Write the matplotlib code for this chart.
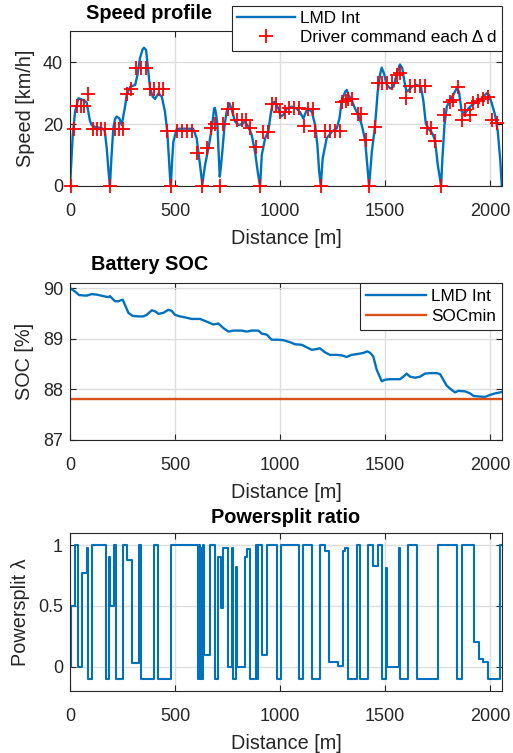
import matplotlib
matplotlib.use("Agg")
import matplotlib.pyplot as plt

plt.rcParams["font.family"] = ["Liberation Sans", "DejaVu Sans"]

# --- speed profile: driver commands (red +) ---
cmd_dist = [3, 19, 32, 51, 67, 87, 108, 127, 146, 165, 190, 214, 235, 254, 270, 289,
            314, 337, 360, 381, 402, 422, 444, 460, 479, 508, 532, 556, 579, 605, 630,
            650, 672, 688, 716, 730, 754, 778, 797, 817, 838, 857, 884, 905, 921, 944,
            960, 981, 1000, 1024, 1045, 1068, 1092, 1114, 1132, 1156, 1167, 1194, 1214,
            1238, 1262, 1286, 1297, 1313, 1325, 1344, 1370, 1386, 1408, 1424, 1452, 1465,
            1487, 1508, 1532, 1556, 1571, 1598, 1619, 1643, 1667, 1688, 1699, 1720, 1738,
            1767, 1783, 1810, 1822, 1849, 1865, 1881, 1905, 1921, 1944, 1968, 1992, 2008,
            2032]
cmd_speed = [0, 18.4, 25.9, 25.9, 25.9, 29.6, 18.4, 18.4, 18.4, 18.4, 0, 18.4, 18.4, 18.4,
             29.6, 31.3, 38.2, 38.2, 38.2, 31.3, 31.3, 31.3, 31.3, 17.7, 0, 17.7, 17.7,
             17.7, 17.7, 10.6, 0, 12.4, 18.8, 19.9, 0, 20.1, 25, 25, 21.3, 21.3, 21.3,
             18.6, 12.6, 0, 17.3, 17.3, 26.6, 26.6, 23.8, 23.8, 25.3, 25.3, 25.3, 19.5,
             25, 25, 17.7, 0, 17.7, 17.7, 17.7, 17.7, 27.2, 27.4, 28.1, 28.1, 23.1, 23.1,
             14.8, 0, 19.1, 33.1, 33.1, 33.1, 33.1, 35.8, 36.3, 28.3, 32.3, 32.3, 32.3,
             32.3, 18.6, 18.6, 14.5, 0, 22.9, 27.2, 27.7, 32, 21.3, 24.5, 22.9, 26.7,
             27.4, 28.1, 28.8, 21.3, 20.2]

# --- speed profile: LMD Int (blue line) ---
lmd_dist = [0, 13, 24, 40, 63, 79, 95, 103, 120, 150, 165, 175, 183, 190, 197, 206, 214,
            222, 235, 246, 262, 270, 286, 310, 321, 333, 345, 352, 362, 368, 381, 394,
            405, 421, 437, 452, 463, 470, 476, 480, 486, 492, 508, 530, 560, 587, 603,
            619, 630, 643, 659, 675, 686, 690, 696, 702, 708, 713, 718, 725, 736, 746,
            759, 770, 786, 802, 817, 833, 849, 865, 881, 895, 905, 913, 929, 944, 956,
            965, 975, 992, 1003, 1016, 1032, 1056, 1079, 1095, 1111, 1130, 1151, 1167,
            1178, 1186, 1194, 1203, 1222, 1246, 1270, 1283, 1294, 1310, 1318, 1325, 1341,
            1357, 1373, 1389, 1405, 1417, 1424, 1437, 1452, 1465, 1476, 1484, 1495, 1508,
            1524, 1540, 1556, 1571, 1582, 1591, 1602, 1614, 1627, 1651, 1671, 1683, 1694,
            1706, 1725, 1738, 1751, 1767, 1773, 1783, 1794, 1810, 1825, 1841, 1852, 1865,
            1881, 1897, 1913, 1937, 1960, 1984, 1995, 2008, 2024, 2037, 2048, 2056]
lmd_speed = [0, 16.5, 24, 28.3, 27.7, 27, 21, 19.7, 19, 18.7, 18, 12, 5, 0, 9, 18.6, 21.5,
             22.4, 21.8, 19.7, 25.6, 29.4, 32, 32.6, 35.8, 41.2, 44, 44.6, 43.9, 40.1,
             31.5, 28.8, 28.1, 29.9, 28.8, 24, 17.5, 10, 3, 0, 8, 14.3, 18.4, 18.5, 18.5,
             18.4, 15.4, 6.8, 0.5, 6.8, 12.2, 18.6, 25, 25.2, 23, 19.7, 10, 3, 6, 11,
             19.7, 24, 26.7, 24.5, 20.8, 19.7, 19.9, 20.8, 19.1, 16.5, 11, 4, 0, 10, 15.4,
             17.5, 23.4, 26.7, 27.2, 25, 22.4, 22.9, 25, 25.6, 25, 23.8, 21.8, 25, 24,
             19.7, 13, 5, 0, 8.9, 15.4, 17.5, 18.6, 21.8, 27.7, 30.4, 31, 29.4, 27.7, 25,
             22.9, 19.7, 14.8, 5.7, 0, 11, 19.1, 30.4, 35.8, 38.2, 36.3, 32.6, 31.5, 32,
             36.3, 39.2, 38, 34.2, 30.4, 31, 32, 32.6, 32, 27.2, 20.2, 18.6, 17, 14.8, 6.8,
             0, 8.9, 19.7, 25.6, 27.7, 29.4, 31.5, 30.4, 24, 23.4, 25, 26.1, 27.2, 28.3,
             29.9, 29.4, 26.7, 22.9, 17.5, 8.9, 0]

# --- battery SOC ---
soc_dist = [0, 24, 44, 79, 103, 127, 159, 183, 190, 214, 230, 251, 278, 298, 325, 349, 365,
            389, 405, 421, 444, 468, 484, 500, 524, 548, 579, 619, 643, 683, 706, 730,
            754, 778, 817, 841, 865, 897, 913, 937, 960, 992, 1016, 1048, 1071, 1103,
            1127, 1151, 1167, 1190, 1214, 1238, 1270, 1294, 1317, 1341, 1373, 1397, 1416,
            1429, 1444, 1460, 1484, 1500, 1524, 1571, 1587, 1603, 1619, 1643, 1667, 1690,
            1714, 1746, 1762, 1794, 1817, 1833, 1849, 1881, 1905, 1921, 1944, 1976, 2000,
            2024, 2048, 2057]
soc_val = [90.0, 89.93, 89.86, 89.85, 89.88, 89.87, 89.84, 89.82, 89.84, 89.74, 89.74,
           89.77, 89.51, 89.45, 89.44, 89.44, 89.47, 89.56, 89.54, 89.49, 89.51, 89.57,
           89.55, 89.47, 89.44, 89.42, 89.39, 89.39, 89.35, 89.28, 89.30, 89.21, 89.14,
           89.16, 89.16, 89.14, 89.16, 89.16, 89.10, 89.08, 88.98, 88.98, 88.97, 88.93,
           88.89, 88.88, 88.83, 88.78, 88.79, 88.81, 88.73, 88.68, 88.68, 88.67, 88.64,
           88.68, 88.70, 88.72, 88.75, 88.72, 88.65, 88.39, 88.16, 88.19, 88.20, 88.20,
           88.25, 88.31, 88.25, 88.23, 88.25, 88.31, 88.32, 88.32, 88.30, 88.07, 87.99,
           87.94, 87.97, 87.96, 87.92, 87.87, 87.86, 87.85, 87.89, 87.92, 87.94, 87.95]
soc_min = 87.8

# --- powersplit ratio (step changes: distance where new value starts) ---
ps_dist = [0, 3, 24, 38, 59, 82, 86, 104, 169, 187, 190, 211, 220, 252, 270, 294, 330,
           336, 401, 421, 482, 608, 614, 619, 624, 628, 632, 640, 667, 689, 706, 719,
           730, 754, 770, 775, 790, 797, 833, 844, 857, 884, 889, 894, 913, 937, 984,
           1003, 1092, 1108, 1151, 1190, 1214, 1235, 1278, 1298, 1310, 1322, 1365, 1381,
           1417, 1444, 1465, 1484, 1503, 1508, 1568, 1573, 1611, 1651, 1754, 1841, 1865,
           1925, 1948, 1968, 1990, 2048, 2057]
ps_val = [0.0, 0.5, 1.0, 0.0, 0.77, 0.98, -0.1, 1.0, -0.1, 0.9, 0.5, 1.0, -0.1, 1.0,
          0.88, 0.03, 1.0, -0.1, 1.0, -0.1, 1.0, -0.1, 1.0, -0.1, 0.98, -0.1, 1.0, 0.1,
          1.0, -0.1, 0.9, 0.48, 0.98, 0.0, 0.98, -0.1, 0.82, 0.0, 0.9, 0.97, -0.1, 1.0,
          -0.1, 1.0, 0.1, 1.0, -0.1, 1.0, -0.1, 1.0, -0.1, 1.0, 0.95, 0.04, 0.01, 0.95,
          0.98, -0.1, 1.0, -0.1, 1.0, 0.83, 1.0, -0.1, 0.81, 0.0, 0.98, -0.1, 1.0, -0.1,
          1.0, -0.1, 1.0, 0.2, 0.06, 0.04, -0.1, 1.0, 1.0]

BLUE = "#0072BD"
ORANGE = "#D95319"
TXT = "#262626"
FS_TICK = 13
FS_LAB = 14.3
FS_LEG = 12.3

fig = plt.figure(figsize=(5.13, 7.53), dpi=100)


def style_axes(ax):
    # matlab like look: box, inward ticks, light grid
    ax.grid(True, color="#dedede", linewidth=1.0)
    ax.set_axisbelow(True)
    ax.tick_params(direction="in", top=True, right=True, length=4, width=0.8,
                   labelsize=FS_TICK, colors=TXT, pad=5)
    ax.tick_params(axis="x", pad=12)
    for s in ax.spines.values():
        s.set_color(TXT)
        s.set_linewidth(0.8)
    ax.set_xlim(0, 2057)
    ax.set_xticks([0, 500, 1000, 1500, 2000])
    ax.set_xlabel("Distance [m]", fontsize=FS_LAB, color=TXT, labelpad=7)


# 1. speed profile
ax1 = fig.add_axes([0.1365, 0.7530, 0.8421, 0.2058])
style_axes(ax1)
ax1.plot(lmd_dist, lmd_speed, color=BLUE, linewidth=1.7, label="LMD Int")
ax1.plot(cmd_dist, cmd_speed, "+", color="red", markersize=10, markeredgewidth=1.3,
         label="Driver command each \u0394 d", clip_on=False, zorder=3)
ax1.set_ylim(0, 50)
ax1.set_yticks([0, 20, 40])
ax1.set_ylabel("Speed [km/h]", fontsize=FS_LAB, color=TXT, labelpad=6)
ax1.text(0.183, 1.116, "Speed profile", transform=ax1.transAxes, ha="center",
         va="center", fontsize=FS_LAB, fontweight="bold")
leg1 = ax1.legend(loc="upper right", bbox_to_anchor=(1.0, 1.161), fontsize=FS_LEG,
                  fancybox=False, framealpha=1, edgecolor=TXT, borderaxespad=0,
                  handlelength=3.4, handletextpad=0.3, labelspacing=0.25,
                  borderpad=0.3)
leg1.get_frame().set_linewidth(0.8)
leg1.set_zorder(5)

# 2. battery SOC
ax2 = fig.add_axes([0.1365, 0.4157, 0.8421, 0.2085])
style_axes(ax2)
ax2.plot(soc_dist, soc_val, color=BLUE, linewidth=1.7, label="LMD Int")
ax2.plot([0, 2057], [soc_min, soc_min], color=ORANGE, linewidth=1.7, label="SOCmin")
ax2.set_ylim(87, 90.1)
ax2.set_yticks([87, 88, 89, 90])
ax2.set_ylabel("SOC [%]", fontsize=FS_LAB, color=TXT, labelpad=6)
ax2.text(0.185, 1.115, "Battery SOC", transform=ax2.transAxes, ha="center",
         va="center", fontsize=FS_LAB, fontweight="bold")
leg2 = ax2.legend(loc="upper right", fontsize=FS_LEG, fancybox=False, framealpha=1,
                  edgecolor=TXT, borderaxespad=0, handlelength=3.5,
                  handletextpad=0.3, labelspacing=0.3, borderpad=0.35)
leg2.get_frame().set_linewidth(0.8)

# 3. powersplit ratio
ax3 = fig.add_axes([0.1365, 0.0823, 0.8421, 0.2098])
style_axes(ax3)
ax3.step(ps_dist, ps_val, where="post", color=BLUE, linewidth=1.5)
ax3.set_ylim(-0.2, 1.1)
ax3.set_yticks([0, 0.5, 1])
ax3.set_yticklabels(["0", "0.5", "1"])
ax3.set_ylabel("Powersplit \u03bb", fontsize=FS_LAB, color=TXT, labelpad=6)
ax3.text(0.5, 1.101, "Powersplit ratio", transform=ax3.transAxes, ha="center",
         va="center", fontsize=FS_LAB, fontweight="bold")

plt.savefig("out.png", dpi=100)
